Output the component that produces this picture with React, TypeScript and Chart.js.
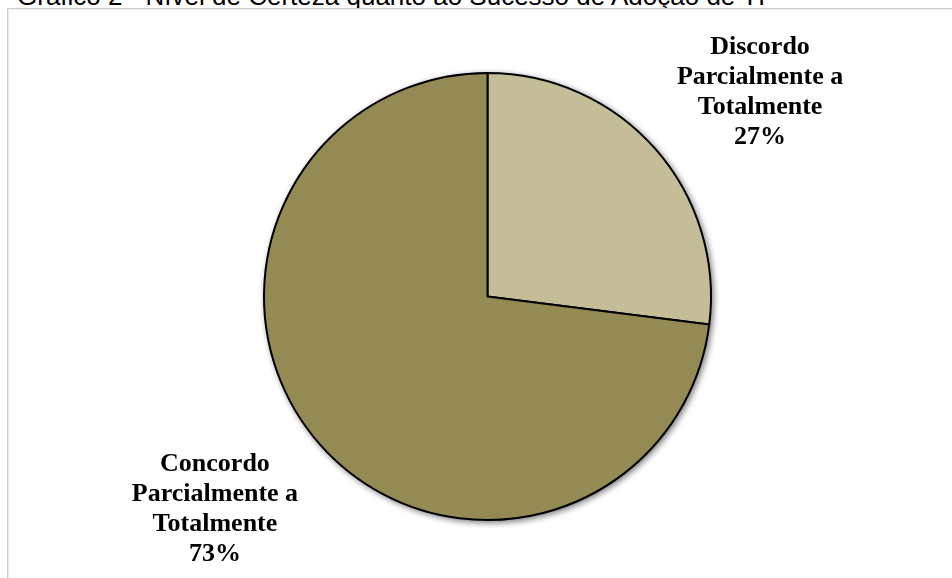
import React, { useEffect, useRef } from "react";
import { Chart, registerables } from "chart.js";

Chart.register(...registerables);

const title = "Gráfico 2 - Nível de Certeza quanto ao Sucesso de Adoção de TI";
const categories = ["Discordo Parcialmente a Totalmente", "Concordo Parcialmente a Totalmente"];
const labelLines = [
  ["Discordo", "Parcialmente a", "Totalmente"],
  ["Concordo", "Parcialmente a", "Totalmente"],
];
const values = [27, 73];
const colors = ["#C4BD97", "#948A54"];

const labelPlugin = {
  id: "sliceLabels",
  beforeDatasetsDraw(chart: any) {
    const ctx = chart.ctx;
    ctx.save();
    ctx.shadowColor = "rgba(0,0,0,0.35)";
    ctx.shadowBlur = 7;
    ctx.shadowOffsetX = 2;
    ctx.shadowOffsetY = 2;
    const meta = chart.getDatasetMeta(0);
    meta.data.forEach((arc: any) => {
      ctx.beginPath();
      ctx.arc(arc.x, arc.y, arc.outerRadius, 0, Math.PI * 2);
      ctx.fillStyle = "#ffffff";
      ctx.fill();
    });
    ctx.restore();
  },
  afterDraw(chart: any) {
    const ctx = chart.ctx;
    const meta = chart.getDatasetMeta(0);
    const total = values.reduce((a, b) => a + b, 0);
    ctx.save();
    ctx.font = "bold 26px 'Liberation Serif', 'Times New Roman', serif";
    ctx.fillStyle = "#000000";
    ctx.textAlign = "center";
    ctx.textBaseline = "middle";
    meta.data.forEach((arc: any, i: number) => {
      const mid = (arc.startAngle + arc.endAngle) / 2 + (4 * Math.PI) / 180;
      const d = arc.outerRadius * 1.535;
      const cx = arc.x + Math.cos(mid) * d;
      const cy = arc.y + Math.sin(mid) * d + 4.5;
      const pct = Math.round((values[i] / total) * 100) + "%";
      const lines = [...labelLines[i], pct];
      const lh = 30;
      const top = cy - ((lines.length - 1) * lh) / 2;
      lines.forEach((t, k) => ctx.fillText(t, cx, top + k * lh));
    });
    ctx.restore();
  },
};

export default function App() {
  const ref = useRef<HTMLCanvasElement>(null);
  useEffect(() => {
    if (!ref.current) return;
    const chart = new Chart(ref.current, {
      type: "pie",
      data: {
        labels: categories,
        datasets: [
          {
            data: values,
            backgroundColor: colors,
            borderColor: "#000000",
            borderWidth: 2,
          },
        ],
      },
      options: {
        responsive: false,
        animation: false,
        events: [],
        layout: { padding: { top: 72, bottom: 57, left: 263, right: 240 } },
        plugins: {
          legend: { display: false },
          tooltip: { enabled: false },
          title: { display: false },
        },
      },
      plugins: [labelPlugin],
    });
    return () => chart.destroy();
  }, []);

  return (
    <div
      style={{
        position: "fixed",
        left: 0,
        top: 0,
        width: 952,
        height: 578,
        overflow: "hidden",
        background: "#ffffff",
      }}
    >
      <div
        style={{
          position: "absolute",
          left: 17,
          top: -19,
          fontFamily: "'Liberation Sans', Arial, sans-serif",
          fontSize: 26,
          lineHeight: "30px",
          whiteSpace: "nowrap",
          color: "#000",
        }}
      >
        {title}
      </div>
      <div
        style={{
          position: "absolute",
          left: 7,
          top: 8,
          width: 980,
          height: 620,
          border: "1px solid #d0d0d0",
          boxShadow: "inset 1px 1px 0 #ececec",
        }}
      />
      <canvas
        ref={ref}
        width={952}
        height={578}
        style={{ position: "absolute", left: 0, top: 0, width: 952, height: 578 }}
      />
    </div>
  );
}
